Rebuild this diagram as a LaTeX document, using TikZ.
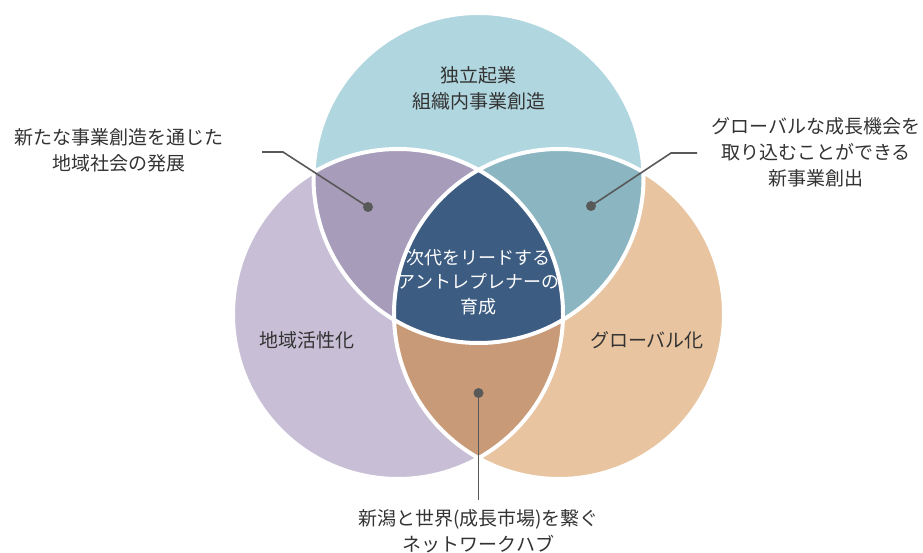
\documentclass[tikz,border=0pt]{standalone}
\usepackage{fontspec}
\setmainfont{Noto Sans CJK JP}
\definecolor{cTop}{HTML}{B0D6DF}
\definecolor{cLeft}{HTML}{C8BFD6}
\definecolor{cRight}{HTML}{E8C4A0}
\definecolor{cTL}{HTML}{A79DBA}
\definecolor{cTR}{HTML}{8AB5C1}
\definecolor{cLR}{HTML}{C99A78}
\definecolor{cAll}{HTML}{3D5C82}
\definecolor{cLine}{HTML}{595959}
\definecolor{cText}{HTML}{333333}
\begin{document}
\begin{tikzpicture}[x=1pt,y=-1pt,
  lbl/.style={align=center,text=cText,font=\fontsize{19}{26}\selectfont,inner sep=0pt},
  ctr/.style={align=center,text=white,font=\fontsize{18}{24.5}\selectfont,inner sep=0pt},
  leader/.style={draw=cLine,line width=1.6pt},
  dotmark/.style={circle,fill=cLine,minimum size=10pt,inner sep=0pt},
  outline/.style={draw=white,line width=4pt}]
\useasboundingbox (0,0) rectangle (923,553);
\def\T{(478.5,178) circle (165pt)}
\def\L{(398,314) circle (165pt)}
\def\R{(559,314) circle (165pt)}
% base fills
\fill[cTop] \T;
\fill[cLeft] \L;
\fill[cRight] \R;
% pairwise overlaps
\begin{scope}\clip \T; \fill[cTL] \L; \end{scope}
\begin{scope}\clip \T; \fill[cTR] \R; \end{scope}
\begin{scope}\clip \L; \fill[cLR] \R; \end{scope}
\begin{scope}\clip \T; \clip \L; \fill[cAll] \R; \end{scope}
% white outlines
\draw[outline] \T;
\draw[outline] \L;
\draw[outline] \R;
% region labels
\node[lbl] (top) at (478.5,88) {独立起業\\組織内事業創造};
\node[lbl] (left) at (307,340) {地域活性化};
\node[lbl] (right) at (647,340) {グローバル化};
\node[ctr] (center) at (478.5,282) {次代をリードする\\アントレプレナーの\\育成};
% dots
\node[dotmark] (dTL) at (368,207) {};
\node[dotmark] (dTR) at (591,206) {};
\node[dotmark] (dLR) at (478.5,393) {};
% callout labels
\node[lbl] (cTLtext) at (119,150) {新たな事業創造を通じた\\地域社会の発展};
\node[lbl] (cTRtext) at (816,152) {グローバルな成長機会を\\取り込むことができる\\新事業創出};
\node[lbl] (cLRtext) at (478.5,531) {新潟と世界(成長市場)を繋ぐ\\ネットワークハブ};
% leader lines
\coordinate (kTL) at (283,152);
\coordinate (eTL) at (262,152);
\coordinate (kTR) at (671,153);
\coordinate (eTR) at (697,153);
\coordinate (eLR) at (478.5,500);
\draw[leader] (dTL.center) -- (kTL) -- (eTL);
\draw[leader] (dTR.center) -- (kTR) -- (eTR);
\draw[leader] (dLR.center) -- (eLR);
\end{tikzpicture}
\end{document}
